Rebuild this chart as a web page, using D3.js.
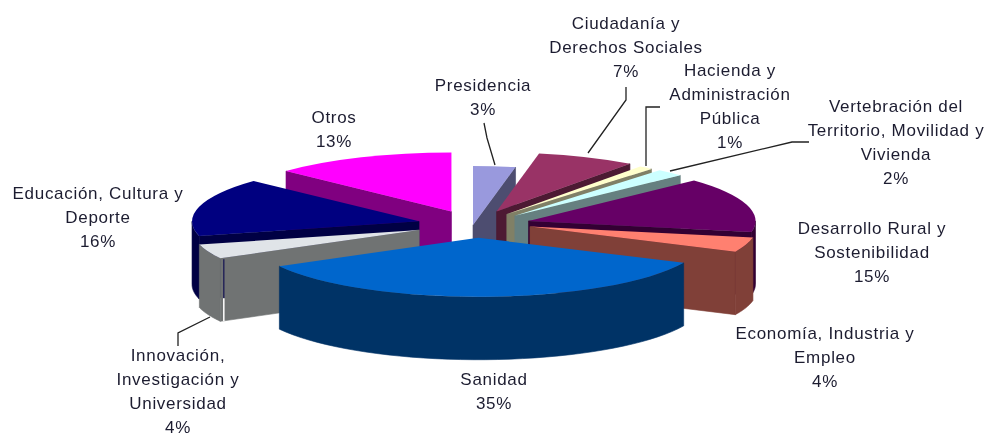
<!DOCTYPE html>
<html><head><meta charset="utf-8">
<style>html,body{margin:0;background:#fff}svg{display:block;filter:blur(.4px)}
text{font-family:"Liberation Sans",Arial,sans-serif;font-size:17px;fill:#1c1c30;text-anchor:middle;letter-spacing:.7px}</style>
<script src="https://cdn.jsdelivr.net/npm/d3@7/dist/d3.min.js"></script>
</head><body><svg id="c" width="985" height="437"></svg>
<script>
const categories=["Presidencia","Ciudadanía y Derechos Sociales","Hacienda y Administración Pública","Vertebración del Territorio, Movilidad y Vivienda","Desarrollo Rural y Sostenibilidad","Economía, Industria y Empleo","Sanidad","Innovación, Investigación y Universidad","Educación, Cultura y Deporte","Otros"];
const shares=[3,7,1,2,15,4,35,4,16,13];
const explosion=[0,25,25,25,25,25,25,25,25,25];
const nudgeX=[-1,0,-2,2,0,2,2.5,-2,0,0];
const nudgeY=[0,0,1,1.5,0,-3,-2,-0.5,0,0];
const topColors=["#9999dd","#993366","#ffffcc","#ccffff","#660066","#ff8070","#0066cc","#e0e4e8","#000080","#ff00ff"];
const sideColors=["#4d4d70","#4d1a33","#808066","#668080","#330033","#804038","#003366","#707373","#000044","#800080"];
const labelLines=[["Presidencia","3%"],["Ciudadanía y","Derechos Sociales","7%"],["Hacienda y","Administración","Pública","1%"],["Vertebración del","Territorio, Movilidad y","Vivienda","2%"],["Desarrollo Rural y","Sostenibilidad","15%"],["Economía, Industria y","Empleo","4%"],["Sanidad","35%"],["Innovación,","Investigación y","Universidad","4%"],["Educación, Cultura y","Deporte","16%"],["Otros","13%"]];
const labelPos=[[483,91],[626,29],[730,76],[896,112],[872,234],[825,339],[494,385],[178,361],[98,199],[334,123]];
const leaders=[[[484,123],[487,138],[495,165]],[[626,87],[626,100],[588,153]],[[660,107],[646,107],[646,166]],[[809,142],[792,142],[670,171]],[[178,346],[178,333],[210,317]]];

const cx=474,cy=225,rx=227,ry=59,depth=63;
const svg=d3.select("#c");
const pie=d3.pie().sort(null).startAngle(0).endAngle(2*Math.PI);
const arcs=pie(shares).map((d,i)=>{
  const mid=(d.startAngle+d.endAngle)/2,e=explosion[i]/100;
  return {i,a0:d.startAngle,a1:d.endAngle,mid,ax:cx+e*rx*Math.sin(mid)+nudgeX[i],ay:cy-e*ry*Math.cos(mid)+nudgeY[i]};
});
const px=(s,t)=>[s.ax+rx*Math.sin(t),s.ay-ry*Math.cos(t)];
const line=d3.line();
const arcGen=d3.arc().innerRadius(0).outerRadius(rx);
const order=arcs.slice().sort((a,b)=>Math.cos(b.mid)-Math.cos(a.mid));
const g=svg.selectAll("g.slice").data(order).join("g").attr("class","slice");
const face=(s,t)=>{const p=px(s,t);return line([[s.ax,s.ay],p,[p[0],p[1]+depth],[s.ax,s.ay+depth]])+"Z";};
g.each(function(s){
  const sel=d3.select(this),col=sideColors[s.i];
  const side=d=>sel.append("path").attr("d",d).attr("fill",col).attr("stroke",col).attr("stroke-width",.6);
  if(Math.sin(s.a0)<-1e-6) side(face(s,s.a0));
  if(Math.sin(s.a1)>1e-6) side(face(s,s.a1));
  const lo=Math.max(s.a0,Math.PI/2),hi=Math.min(s.a1,3*Math.PI/2);
  if(hi>lo){
    const ts=d3.range(0,41).map(k=>lo+(hi-lo)*k/40);
    const up=ts.map(t=>px(s,t)),dn=ts.map(t=>{const p=px(s,t);return [p[0],p[1]+depth];}).reverse();
    side(line(up.concat(dn))+"Z");
  }
  sel.append("path").attr("transform",`translate(${s.ax},${s.ay}) scale(1,${ry/rx})`)
    .attr("d",arcGen({startAngle:s.a0,endAngle:s.a1})).attr("fill",topColors[s.i]);
  if(s.i===7){
    const p=px(s,s.a0);
    sel.append("line").attr("x1",p[0]+3.5).attr("x2",p[0]+3.5).attr("y1",p[1]+1).attr("y2",p[1]+40).attr("stroke","#1a1a55").attr("stroke-width",1.3);
    sel.append("line").attr("x1",p[0]+3.5).attr("x2",p[0]+3.5).attr("y1",p[1]+40).attr("y2",p[1]+depth).attr("stroke","#fff").attr("stroke-width",1.5);
  }
});
svg.selectAll("path.leader").data(leaders).join("path").attr("class","leader")
  .attr("d",d=>line(d)).attr("fill","none").attr("stroke","#222").attr("stroke-width",1.3);
const lbl=svg.selectAll("text").data(labelLines).join("text")
  .attr("transform",(d,i)=>`translate(${labelPos[i][0]},${labelPos[i][1]})`);
lbl.selectAll("tspan").data(d=>d).join("tspan").attr("x",0).attr("y",(d,j)=>j*24).text(d=>d);
</script></body></html>
